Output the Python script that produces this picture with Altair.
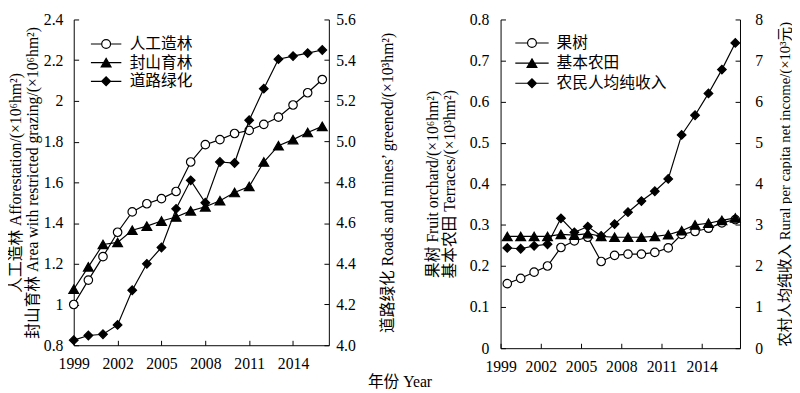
import altair as alt
import pandas as pd

years = list(range(1999, 2017))
x_ticks = [1999, 2002, 2005, 2008, 2011, 2014]

# Left panel series
afforestation = [1.00, 1.12, 1.235, 1.355, 1.455, 1.495, 1.52, 1.555, 1.70, 1.785,
                 1.81, 1.84, 1.855, 1.885, 1.92, 1.98, 2.04, 2.105]
restricted_grazing = [1.075, 1.185, 1.295, 1.305, 1.365, 1.385, 1.41, 1.43, 1.46, 1.48,
                      1.51, 1.55, 1.58, 1.70, 1.78, 1.81, 1.845, 1.875]
roads_greened = [4.025, 4.048, 4.054, 4.10, 4.27, 4.40, 4.48, 4.67, 4.81, 4.70,
                 4.90, 4.895, 5.105, 5.26, 5.405, 5.42, 5.435, 5.45]

# Right panel series
fruit_orchard = [0.157, 0.170, 0.185, 0.200, 0.245, 0.261, 0.270, 0.211, 0.226, 0.229,
                 0.229, 0.233, 0.244, 0.277, 0.284, 0.292, 0.305, 0.313]
terraces = [0.272, 0.272, 0.272, 0.272, 0.277, 0.275, 0.279, 0.272, 0.270, 0.270,
            0.270, 0.272, 0.276, 0.286, 0.300, 0.304, 0.311, 0.317]
net_income = [2.44, 2.42, 2.49, 2.53, 3.16, 2.82, 2.96, 2.73, 3.02, 3.31,
              3.58, 3.82, 4.12, 5.19, 5.67, 6.20, 6.78, 7.43]

left_names = ["人工造林", "封山育林", "道路绿化"]
right_names = ["果树", "基本农田", "农民人均纯收入"]

left_y_ticks = [0.8, 1.0, 1.2, 1.4, 1.6, 1.8, 2.0, 2.2, 2.4]
left_y2_ticks = [4.0, 4.2, 4.4, 4.6, 4.8, 5.0, 5.2, 5.4, 5.6]
right_y_ticks = [0, 0.1, 0.2, 0.3, 0.4, 0.5, 0.6, 0.7, 0.8]
right_y2_ticks = [0, 1, 2, 3, 4, 5, 6, 7, 8]

FONT = "Liberation Serif, Noto Sans CJK SC"
INWARD = {"expr": "-5"}


def long_df(names, arrays):
    rows = []
    for n, arr in zip(names, arrays):
        for yr, v in zip(years, arr):
            rows.append({"year": yr, "value": v, "series": n})
    return pd.DataFrame(rows)


def legend_paths(half):
    return [
        f"M-{half},0L-0.9,0M0.9,0L{half},0M0.9,0A0.9,0.9,0,1,1,-0.9,0A0.9,0.9,0,1,1,0.9,0",
        f"M-{half},0L{half},0M0,-0.87L1,0.87L-1,0.87Z",
        f"M-{half},0L{half},0M-0.9,0L0,-0.9L0.9,0L0,0.9Z",
    ]


def panel(df, names, shift, x_domain, y_left, y_right, half, leg, width, height):
    x_enc = alt.X("xpos:Q", scale=alt.Scale(domain=x_domain, nice=False, zero=False),
                  axis=alt.Axis(values=x_ticks, format="d", title=None, tickSize=INWARD,
                                labelPadding=16, labelFlush=False))

    def base(name=None):
        c = alt.Chart(df).transform_calculate(xpos=f"datum.year + {shift}")
        if name is None:
            return c.transform_filter("false")
        return c.transform_filter(alt.datum.series == name)

    def series_layers(name, shape, fill, size, y):
        line = base(name).mark_line(color="black", strokeWidth=1.2).encode(x=x_enc, y=y)
        pts = base(name).mark_point(shape=shape, filled=True, fill=fill, stroke="black",
                                    strokeWidth=1.2, size=size, opacity=1).encode(x=x_enc, y=y)
        return [line, pts]

    legend = alt.Legend(title=None, orient="none", legendX=leg["x"], legendY=leg["y"],
                        symbolSize=100, symbolOffset=leg["so"], labelOffset=leg["lo"],
                        labelFont=FONT, labelFontSize=16, labelColor="black",
                        rowPadding=leg["rp"], padding=0, symbolStrokeWidth=1.2,
                        symbolStrokeColor="black")
    leg_layer = base().mark_point(filled=True, strokeWidth=1.2, opacity=1).encode(
        x=x_enc, y=y_left,
        shape=alt.Shape("series:N", scale=alt.Scale(domain=names, range=legend_paths(half)), legend=legend),
        fill=alt.Fill("series:N", scale=alt.Scale(domain=names, range=["white", "black", "black"]), legend=legend),
        stroke=alt.Stroke("series:N", scale=alt.Scale(domain=names, range=["black", "black", "black"]), legend=legend),
    )
    left_group = alt.layer(
        *series_layers(names[0], "circle", "white", 75, y_left),
        *series_layers(names[1], "triangle-up", "black", 100, y_left),
        leg_layer,
    )
    right_group = alt.layer(*series_layers(names[2], "diamond", "black", 78, y_right))
    return alt.layer(left_group, right_group).resolve_scale(y="independent").properties(
        width=width, height=height)


dfL = long_df(left_names, [afforestation, restricted_grazing, roads_greened])
dfR = long_df(right_names, [fruit_orchard, terraces, net_income])

yL = alt.Y("value:Q", scale=alt.Scale(domain=[0.8, 2.4], nice=False, zero=False),
           axis=alt.Axis(values=left_y_ticks, format="~g", tickSize=INWARD, labelPadding=16,
                         titlePadding=3, titleLineHeight=17,
                         title=["人工造林 Afforestation/(×10\u2076hm\u00b2)",
                                "封山育林 Area with restricted grazing/(×10\u2076hm\u00b2)"]))
yL2 = alt.Y("value:Q", scale=alt.Scale(domain=[4.0, 5.6], nice=False, zero=False),
            axis=alt.Axis(orient="right", values=left_y2_ticks, format=".1f", tickSize=INWARD,
                          labelPadding=12, titleAngle=270, titleBaseline="top", titlePadding=25,
                          title="道路绿化 Roads and mines\u2019 greened/(×10\u00b3hm\u00b2)"))
yR = alt.Y("value:Q", scale=alt.Scale(domain=[0, 0.8], nice=False, zero=False),
           axis=alt.Axis(values=right_y_ticks, format="~g", tickSize=INWARD, labelPadding=17,
                         titlePadding=12, titleLineHeight=17,
                         title=["果树 Fruit orchard/(×10\u2076hm\u00b2)",
                                "基本农田 Terraces/(×10\u00b3hm\u00b2)"]))
yR2 = alt.Y("value:Q", scale=alt.Scale(domain=[0, 8], nice=False, zero=False),
            axis=alt.Axis(orient="right", values=right_y2_ticks, format="d", tickSize=INWARD,
                          labelPadding=20, titleAngle=270, titleBaseline="top", titlePadding=15,
                          titleFontSize=15,
                          title="农村人均纯收入 Rural per capita net income/(×10\u00b3元)"))

left_panel = panel(dfL, left_names, 0, [1999, 2016.45], yL, yL2, 3.1,
                   {"x": 14, "y": 17, "so": 11, "lo": 16, "rp": 3}, 260, 332)
right_panel = panel(dfR, right_names, 0.5, [1999, 2016.85], yR, yR2, 3.4,
                    {"x": 12, "y": 16, "so": 12, "lo": 17, "rp": 4.5}, 244, 335)

chart = alt.hconcat(left_panel, right_panel, spacing=30).resolve_scale(
    shape="independent", fill="independent", stroke="independent"
).resolve_legend(
    shape="independent", fill="independent", stroke="independent"
).properties(
    padding={"left": 0, "top": 0, "right": 0, "bottom": 0},
    title=alt.TitleParams("年份 Year", orient="bottom", anchor="middle", font=FONT,
                          fontSize=16, fontWeight="normal", color="black", offset=0),
).configure_view(strokeWidth=0).configure_axis(
    grid=False, domainColor="black", tickColor="black", labelColor="black",
    titleColor="black", labelFont=FONT, titleFont=FONT, labelFontSize=16,
    titleFontSize=16, titleFontWeight="normal", domainWidth=1, tickWidth=1,
)

chart.save("out.html", embed_options={"renderer": "svg", "actions": False})
